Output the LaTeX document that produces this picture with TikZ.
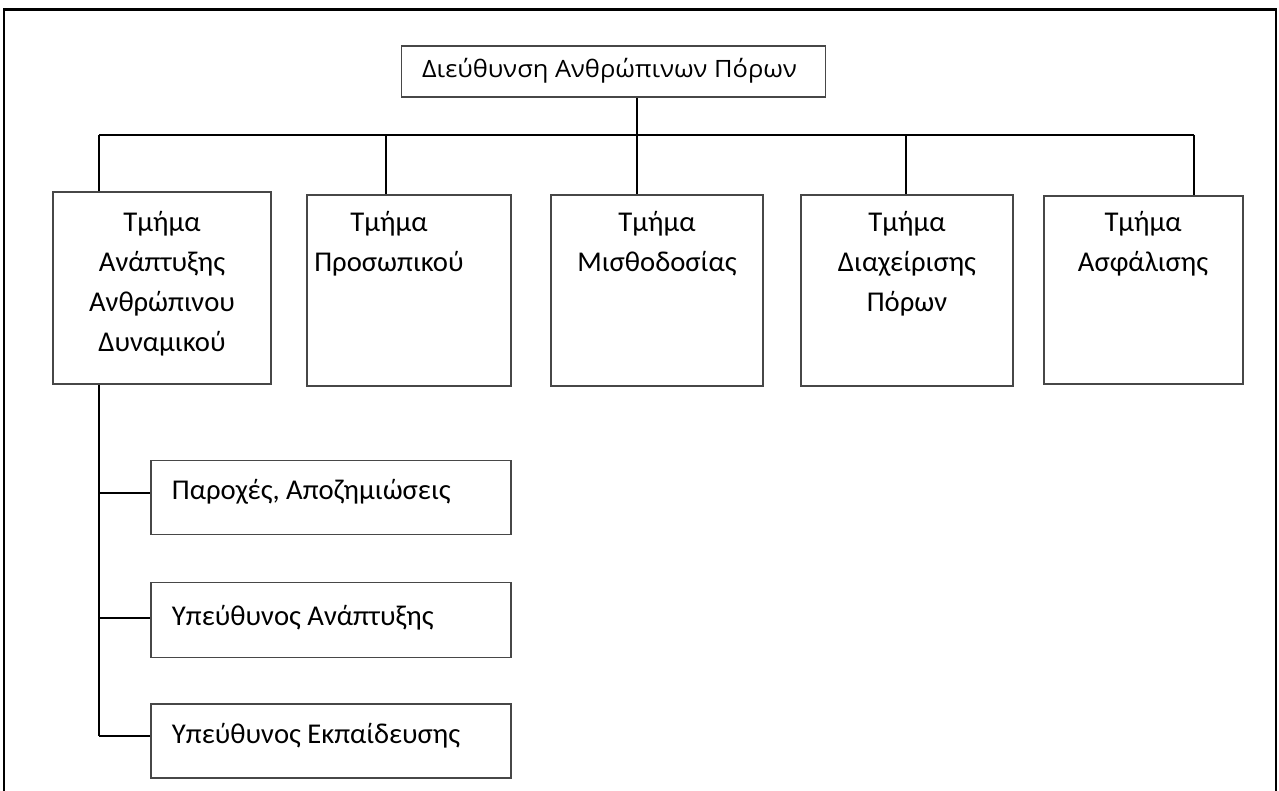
\documentclass[tikz,border=0pt]{standalone}
\usepackage{fontspec}
\usepackage{graphicx}
\setmainfont{Carlito}
\newfontfamily\headfont{Open Sans}
\begin{document}
\begin{tikzpicture}[x=0.75pt,y=-0.75pt,
  box/.style={draw=black!72,line width=1.1pt,inner sep=0pt},
  conn/.style={draw=black,line width=1.2pt},
  lbl/.style={inner sep=0pt,align=center,anchor=north,font=\fontsize{21.5pt}{30pt}\selectfont},
  sublbl/.style={inner sep=0pt,anchor=base west,font=\fontsize{21.5pt}{30pt}\selectfont}]
\useasboundingbox (0,0) rectangle (1279,791);
% outer frame
\draw[line width=1.1pt] (4,791) -- (4,10);
\draw[line width=1.1pt] (1276,10) -- (1276,791);
\draw[line width=2.25pt] (3,10) -- (1277,10);
% top box
\node[box,minimum width=318pt,minimum height=38.25pt] (b0) at (613.5,71.5) {};
\node[inner sep=0pt,anchor=base] (t0) at (609.5,77.3) {\headfont\fontsize{17.9pt}{24pt}\selectfont\resizebox{281pt}{\height}{Διεύθυνση Ανθρώπινων Πόρων}};
% second level boxes
\node[box,minimum width=163.5pt,minimum height=144pt] (b1) at (162,288) {};
\node[box,minimum width=153pt,minimum height=143.25pt] (b2) at (409,290.5) {};
\node[box,minimum width=159pt,minimum height=143.25pt] (b3) at (657,290.5) {};
\node[box,minimum width=159pt,minimum height=143.25pt] (b4) at (907,290.5) {};
\node[box,minimum width=149.25pt,minimum height=141pt] (b5) at (1143.5,290) {};
\node[lbl] (t1) at (162,203.7) {\strut Τμήμα\\Ανάπτυξης\\Ανθρώπινου\\Δυναμικού};
\node[lbl] (t2) at (389,203.7) {\strut Τμήμα\\Προσωπικού};
\node[lbl] (t3) at (657,203.7) {\strut Τμήμα\\Μισθοδοσίας};
\node[lbl] (t4) at (907,203.7) {\strut Τμήμα\\Διαχείρισης\\Πόρων};
\node[lbl] (t5) at (1143,203.7) {\strut Τμήμα\\Ασφάλισης};
% sub boxes
\node[box,minimum width=270pt,minimum height=55.5pt] (p1) at (331,497.5) {};
\node[box,minimum width=270pt,minimum height=56.25pt] (p2) at (331,620) {};
\node[box,minimum width=270pt,minimum height=55.5pt] (p3) at (331,741) {};
\node[sublbl] (s1) at (171.7,499.3) {Παροχές, Αποζημιώσεις};
\node[sublbl] (s2) at (171.7,625) {Υπεύθυνος Ανάπτυξης};
\node[sublbl] (s3) at (171.7,743) {Υπεύθυνος Εκπαίδευσης};
% bus
\coordinate (d1) at (99,135);
\coordinate (d2) at (386,135);
\coordinate (d3) at (637,135);
\coordinate (d4) at (906,135);
\coordinate (d5) at (1194,135);
\draw[conn] (d1) -- (d5);
\draw[conn] (d3) -- (d3 |- b0.south);
\draw[conn] (d1) -- (d1 |- b1.north);
\draw[conn] (d2) -- (d2 |- b2.north);
\draw[conn] (d3) -- (d3 |- b3.north);
\draw[conn] (d4) -- (d4 |- b4.north);
\draw[conn] (d5) -- (d5 |- b5.north);
% sub spine
\coordinate (j1) at (99,493);
\coordinate (j2) at (99,618);
\coordinate (j3) at (99,736);
\draw[conn] (d1 |- b1.south) -- (j3);
\draw[conn] (j1) -- (j1 -| p1.west);
\draw[conn] (j2) -- (j2 -| p2.west);
\draw[conn] (j3) -- (j3 -| p3.west);
\end{tikzpicture}
\end{document}
